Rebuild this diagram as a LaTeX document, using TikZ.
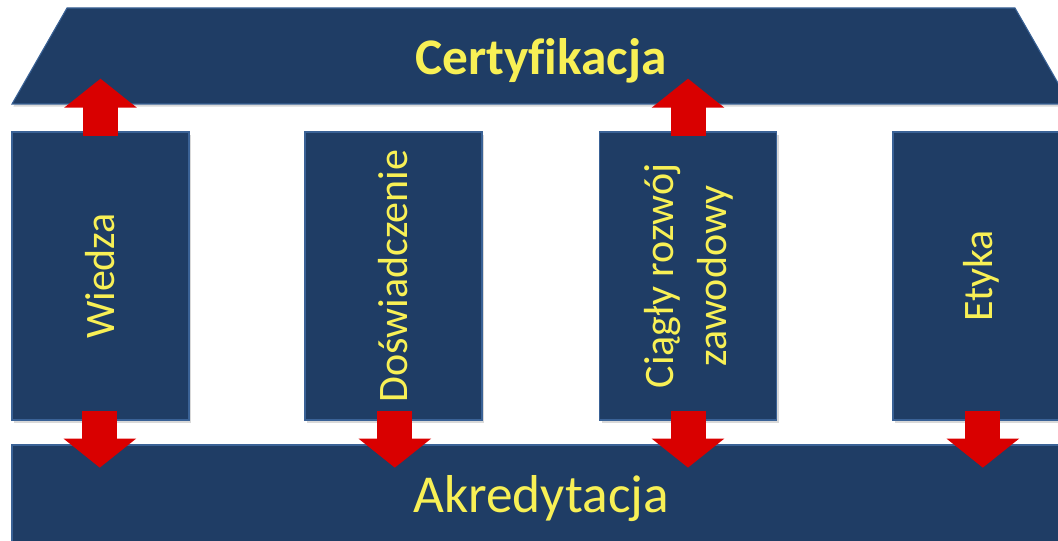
\documentclass[tikz,border=0pt]{standalone}
\usepackage{fontspec}
\setmainfont{Carlito}[Ligatures=NoCommon]
\usepackage{graphicx}
\usetikzlibrary{arrows.meta, shadows}
\definecolor{pillarblue}{HTML}{1F3D65}
\definecolor{edgeblue}{HTML}{3A6296}
\definecolor{textyellow}{HTML}{F8F055}
\definecolor{arrowred}{HTML}{D90000}
\tikzstyle{roofshape} = [fill=pillarblue, draw=edgeblue, line width=0.8pt, drop shadow={shadow xshift=1pt, shadow yshift=-2pt, opacity=0.3}]
\tikzstyle{roof} = [rectangle, minimum width=793.5pt, minimum height=72pt, outer sep=0pt, text=textyellow, text height=28.5pt, text depth=0pt, font=\fontsize{38.5}{44}\selectfont\bfseries]
\tikzstyle{pillar} = [rectangle, minimum width=132.75pt, minimum height=216pt, fill=pillarblue, draw=edgeblue, line width=0.8pt, outer sep=0pt, text=textyellow, font=\fontsize{31.5}{44}\selectfont, drop shadow={shadow xshift=1.5pt, shadow yshift=-2pt, opacity=0.3}]
\tikzstyle{base} = [rectangle, minimum width=793.5pt, minimum height=86.25pt, fill=pillarblue, draw=edgeblue, line width=0.8pt, outer sep=0pt, text=textyellow, text height=15.75pt, text depth=0pt, font=\fontsize{40}{46}\selectfont]
\tikzstyle{arrow} = [line width=26.25pt, draw=arrowred, -{Triangle[width=53.25pt, length=21.75pt]}]

\begin{document}
\begin{tikzpicture}[x=0.75pt, y=-0.75pt]
\clip (0,0) rectangle (1058,541);

% roof
\path [roofshape] (12,104) -- (67,8) -- (1015,8) -- (1070,104) -- cycle;
\node (cert) [roof] at (541,56) {Certyfikacja};

\node (wiedza) [pillar] at (100.5,276) {\rotatebox{90}{Wiedza}};
\node (dosw) [pillar] at (393.5,276) {\rotatebox{90}{Doświadczenie}};
\node (rozwoj) [pillar] at (688,276) {\rotatebox{90}{\begin{tabular}{@{}c@{}}Ciągły rozwój\\[-4pt]zawodowy\end{tabular}}};
\node (etyka) [pillar] at (981.5,276) {\rotatebox{90}{Etyka}};
\node (akred) [base] at (541,502.5) {Akredytacja};

% pillars carry up to the roof
\draw [arrow, shorten <=-3pt, shorten >=-19pt] (wiedza.north) -- (wiedza.north |- cert.south);
\draw [arrow, shorten <=-3pt, shorten >=-19pt] (rozwoj.north) -- (rozwoj.north |- cert.south);

% pillars stand on the base
\draw [arrow, shorten <=-7pt, shorten >=-17pt] ([xshift=-0.5pt]wiedza.south) -- ([xshift=-0.5pt]wiedza.south |- akred.north);
\draw [arrow, shorten <=-7pt, shorten >=-17pt] ([xshift=1pt]dosw.south) -- ([xshift=1pt]dosw.south |- akred.north);
\draw [arrow, shorten <=-7pt, shorten >=-17pt] (rozwoj.south) -- (rozwoj.south |- akred.north);
\draw [arrow, shorten <=-7pt, shorten >=-17pt] ([xshift=1pt]etyka.south) -- ([xshift=1pt]etyka.south |- akred.north);
\end{tikzpicture}
\end{document}
